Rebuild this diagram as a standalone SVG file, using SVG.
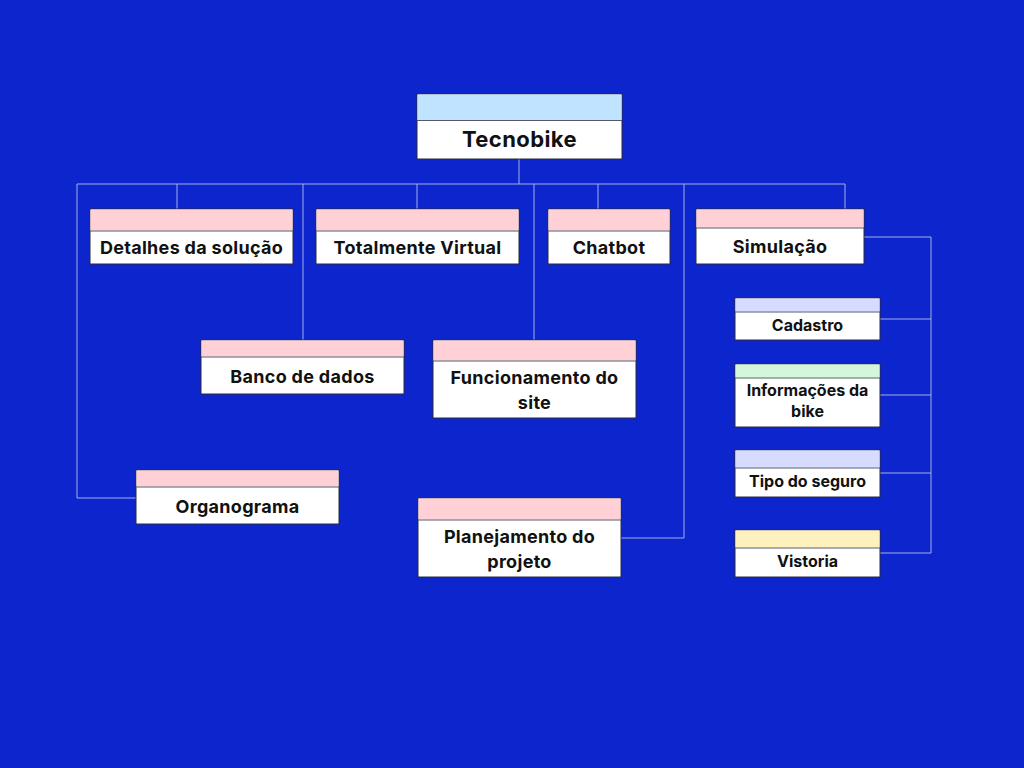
<svg xmlns="http://www.w3.org/2000/svg" width="1024" height="768" viewBox="0 0 1024 768">
<style>
.n rect.b{fill:#ffffff;stroke:#2a2a3a;stroke-width:1}
.n line{stroke:#555a6a;stroke-width:1}
.pk{fill:#ffd0d6}
.bl{fill:#c0e4ff}
.lv{fill:#d6dcff}
.gr{fill:#d4f7dc}
.ye{fill:#fff1bd}
text{font-family:Inter,"Noto Sans","Liberation Sans",sans-serif;font-weight:700;fill:#111111;text-anchor:middle}
.t1{font-size:22px;letter-spacing:0.4px}
.t2{font-size:18px;letter-spacing:0.3px}
.t3{font-size:16px}
#connectors path{fill:none;stroke:#a4afe8;stroke-width:1}
</style>
<rect width="1024" height="768" fill="#0c25cc"/>
<g id="connectors">
<path d="M519 159V184M77 184H845"/>
<path d="M177 184V209M417 184V209M598 184V209M845 184V209"/>
<path d="M303 184V340M534 184V340"/>
<path d="M684 184V538H621"/>
<path d="M77 184V498H136"/>
<path d="M864 237H931V553H880M880 319H931M880 395H931M880 473H931"/>
</g>
<g id="tecnobike" class="n"><rect class="b" x="417" y="94" width="205" height="65"/><rect class="bl" x="417.5" y="94.5" width="204" height="26"/><line x1="417" y1="120.5" x2="622" y2="120.5"/><text class="t1" x="519.5" y="147">Tecnobike</text></g>
<g id="detalhes" class="n"><rect class="b" x="90" y="209" width="203" height="55"/><rect class="pk" x="90.5" y="209.5" width="202" height="21"/><line x1="90" y1="231" x2="293" y2="231"/><text class="t2" x="191.5" y="254">Detalhes da solução</text></g>
<g id="totalmente" class="n"><rect class="b" x="316" y="209" width="203" height="55"/><rect class="pk" x="316.5" y="209.5" width="202" height="21"/><line x1="316" y1="231" x2="519" y2="231"/><text class="t2" x="417.5" y="254">Totalmente Virtual</text></g>
<g id="chatbot" class="n"><rect class="b" x="548" y="209" width="122" height="55"/><rect class="pk" x="548.5" y="209.5" width="121" height="21"/><line x1="548" y1="231" x2="670" y2="231"/><text class="t2" x="609" y="254">Chatbot</text></g>
<g id="simulacao" class="n"><rect class="b" x="696" y="209" width="168" height="55"/><rect class="pk" x="696.5" y="209.5" width="167" height="18"/><line x1="696" y1="228" x2="864" y2="228"/><text class="t2" x="780" y="253">Simulação</text></g>
<g id="banco" class="n"><rect class="b" x="201" y="340" width="203" height="54"/><rect class="pk" x="201.5" y="340.5" width="202" height="16"/><line x1="201" y1="357" x2="404" y2="357"/><text class="t2" x="302.5" y="383">Banco de dados</text></g>
<g id="funcionamento" class="n"><rect class="b" x="433" y="340" width="203" height="78"/><rect class="pk" x="433.5" y="340.5" width="202" height="20"/><line x1="433" y1="361" x2="636" y2="361"/><text class="t2" x="534.5" y="384">Funcionamento do</text><text class="t2" x="534.5" y="409">site</text></g>
<g id="organograma" class="n"><rect class="b" x="136" y="470" width="203" height="54"/><rect class="pk" x="136.5" y="470.5" width="202" height="16"/><line x1="136" y1="487" x2="339" y2="487"/><text class="t2" x="237.5" y="513">Organograma</text></g>
<g id="planejamento" class="n"><rect class="b" x="418" y="498" width="203" height="79"/><rect class="pk" x="418.5" y="498.5" width="202" height="21"/><line x1="418" y1="520" x2="621" y2="520"/><text class="t2" x="519.5" y="543">Planejamento do</text><text class="t2" x="519.5" y="568">projeto</text></g>
<g id="cadastro" class="n"><rect class="b" x="735" y="298" width="145" height="42"/><rect class="lv" x="735.5" y="298.5" width="144" height="13"/><line x1="735" y1="312" x2="880" y2="312"/><text class="t3" x="807.5" y="331">Cadastro</text></g>
<g id="informacoes" class="n"><rect class="b" x="735" y="364" width="145" height="63"/><rect class="gr" x="735.5" y="364.5" width="144" height="13"/><line x1="735" y1="378" x2="880" y2="378"/><text class="t3" x="807.5" y="396">Informações da</text><text class="t3" x="807.5" y="417">bike</text></g>
<g id="tipo" class="n"><rect class="b" x="735" y="450" width="145" height="47"/><rect class="lv" x="735.5" y="450.5" width="144" height="17"/><line x1="735" y1="468" x2="880" y2="468"/><text class="t3" x="807.5" y="487">Tipo do seguro</text></g>
<g id="vistoria" class="n"><rect class="b" x="735" y="530" width="145" height="47"/><rect class="ye" x="735.5" y="530.5" width="144" height="17"/><line x1="735" y1="548" x2="880" y2="548"/><text class="t3" x="807.5" y="567">Vistoria</text></g>
</svg>
